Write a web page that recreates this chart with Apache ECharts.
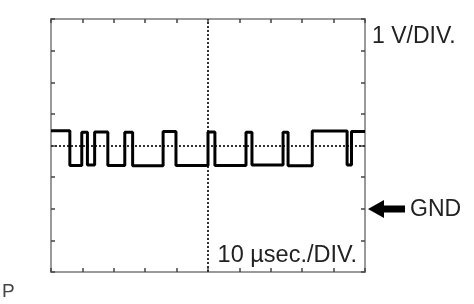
<!DOCTYPE html>
<html>
<head>
<meta charset="utf-8">
<script src="https://cdn.jsdelivr.net/npm/echarts@6/dist/echarts.min.js"></script>
<style>
html,body{margin:0;padding:0;background:#fff;}
#chart{width:474px;height:304px;}
</style>
</head>
<body>
<div id="chart"></div>
<script>
// Time (µs) at which each level segment begins; last entry is the end of the trace
const edgeTimes = [0, 6.0, 9.8, 11.6, 13.9, 18.1, 23.5, 26.0, 35.7, 39.8, 50.0, 52.2, 62.1, 64.0, 73.9, 75.5, 83.2, 94.3, 95.7, 100];
// Voltage (V, GND = 0) of each segment
const levels = [2.47, 1.37, 2.42, 1.38, 2.43, 1.37, 2.42, 1.36, 2.44, 1.37, 2.43, 1.37, 2.42, 1.38, 2.42, 1.36, 2.46, 1.38, 2.44, 2.44];
const xRange = [0, 100];   // 10 µs/DIV, 10 divisions
const yRange = [-2, 6];    // 1 V/DIV, 8 divisions
const centerX = 50;
const centerY = 2;
const labels = { volt: '1 V/DIV.', time: '10 µsec./DIV.', gnd: 'GND', corner: 'P' };

const trace = edgeTimes.map((t, i) => [t, levels[i]]);

const chart = echarts.init(document.getElementById('chart'));
const FONT = '"Liberation Sans", Arial, sans-serif';
const frameColor = '#9a9a9a';
const tickStyle = { show: true, inside: true, length: 4, lineStyle: { color: '#444', width: 1.5 } };
function xAx(pos) {
  return { type: 'value', position: pos, min: xRange[0], max: xRange[1], interval: 10,
    axisLine: { show: false, onZero: false }, axisTick: tickStyle, axisLabel: { show: false }, splitLine: { show: false } };
}
function yAx(pos) {
  return { type: 'value', position: pos, min: yRange[0], max: yRange[1], interval: 1,
    axisLine: { show: false, onZero: false }, axisTick: tickStyle, axisLabel: { show: false }, splitLine: { show: false } };
}
chart.setOption({
  animation: false,
  backgroundColor: '#fff',
  grid: { left: 51, top: 19, right: 109, bottom: 32, show: true, borderColor: frameColor, borderWidth: 2, backgroundColor: 'transparent' },
  xAxis: [xAx('bottom'), xAx('top')],
  yAxis: [yAx('left'), yAx('right')],
  series: [{
    type: 'line',
    xAxisIndex: 0, yAxisIndex: 0,
    step: 'end',
    data: trace,
    symbol: 'none',
    lineStyle: { color: '#000', width: 3 },
    z: 5,
    markLine: {
      silent: true,
      symbol: 'none',
      label: { show: false },
      lineStyle: { color: '#333', width: 2, type: [2, 2] },
      data: [{ xAxis: centerX }, { yAxis: centerY }],
      z: 3
    }
  }],
  graphic: [
    { type: 'text', left: 372, top: 25, style: { text: labels.volt, font: '23px ' + FONT, fill: '#222' } },
    { type: 'text', right: 117, top: 244, style: { text: labels.time, font: '23.5px ' + FONT, fill: '#222', backgroundColor: '#fff' } },
    { type: 'text', left: 410, top: 198, style: { text: labels.gnd, font: '23px ' + FONT, fill: '#222' } },
    { type: 'text', left: 2, top: 282, style: { text: labels.corner, font: '19px ' + FONT, fill: '#444' } },
    { type: 'polygon', shape: { points: [[368, 209], [384, 200], [384, 205.5], [405, 205.5], [405, 212.5], [384, 212.5], [384, 218]] }, style: { fill: '#000' } }
  ]
});
</script>
</body>
</html>
